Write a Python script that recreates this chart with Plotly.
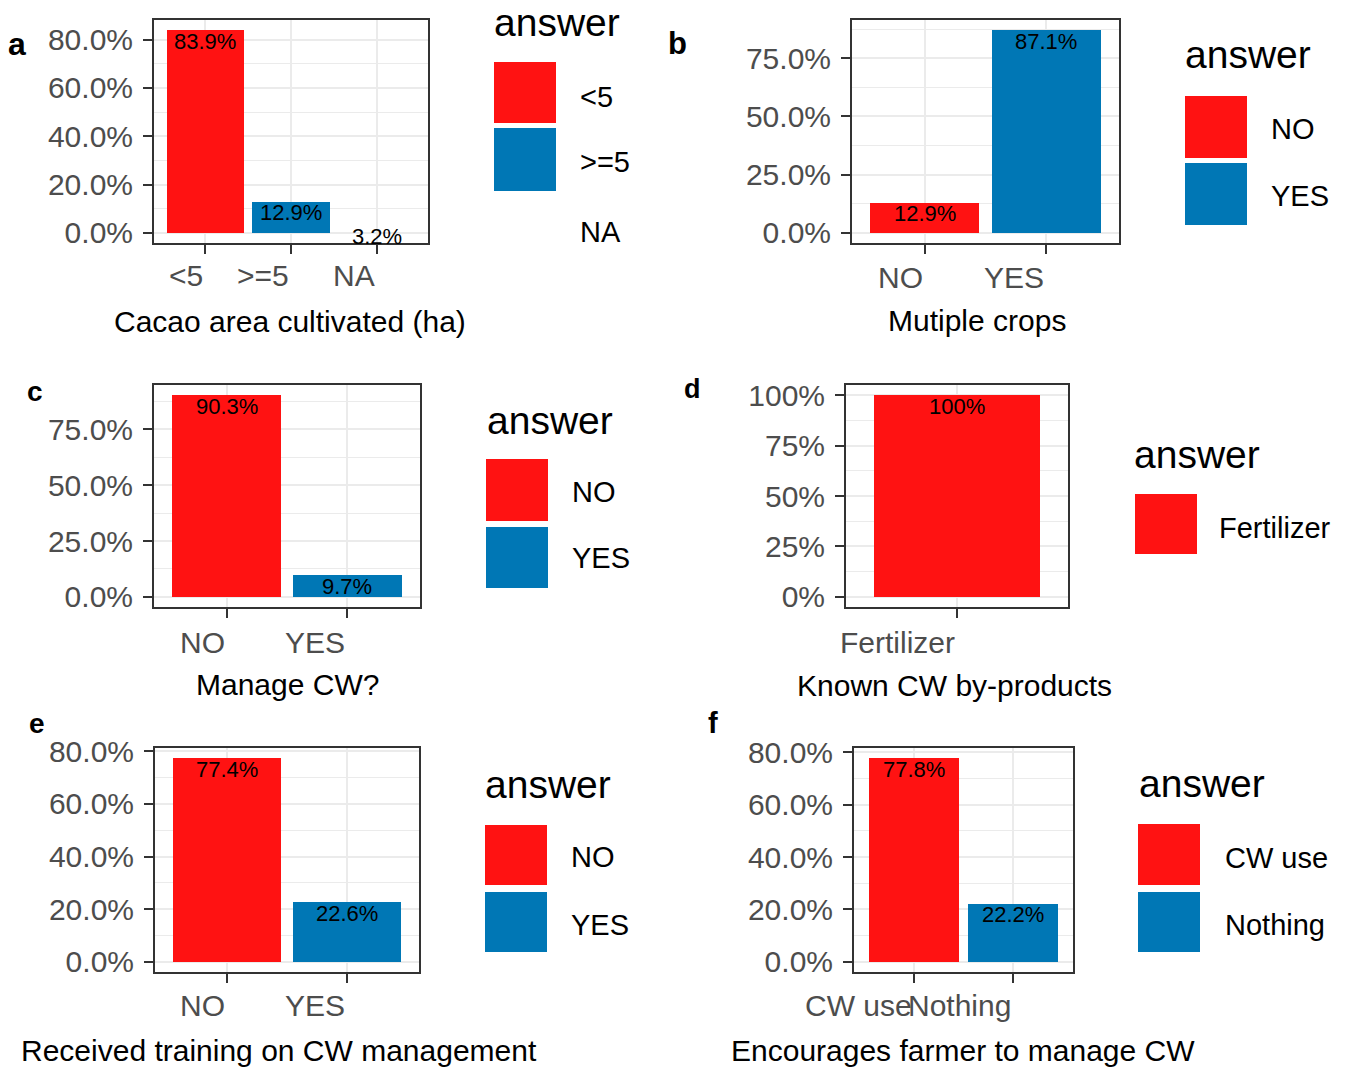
import plotly.graph_objects as go

# ---------------- data ----------------
A_CATEGORIES = ["<5", ">=5", "NA"]
A_SHARE = [0.839, 0.129, 0.032]
A_TITLE = "Cacao area cultivated (ha)"

B_CATEGORIES = ["NO", "YES"]
B_SHARE = [0.129, 0.871]
B_TITLE = "Mutiple crops"

C_CATEGORIES = ["NO", "YES"]
C_SHARE = [0.903, 0.097]
C_TITLE = "Manage CW?"

D_CATEGORIES = ["Fertilizer"]
D_SHARE = [1.0]
D_TITLE = "Known CW by-products"

E_CATEGORIES = ["NO", "YES"]
E_SHARE = [0.774, 0.226]
E_TITLE = "Received training on CW management"

F_CATEGORIES = ["CW use", "Nothing"]
F_SHARE = [0.778, 0.222]
F_TITLE = "Encourages farmer to manage CW"

TICKS_20 = [0, 0.2, 0.4, 0.6, 0.8]
MINOR_20 = [0.1, 0.3, 0.5, 0.7, 0.9]
TICKS_25 = [0, 0.25, 0.5, 0.75]
TICKS_25_FULL = [0, 0.25, 0.5, 0.75, 1.0]
MINOR_25 = [0.125, 0.375, 0.625, 0.875]

LEGEND_TITLE = "answer"

# ---------------- style ----------------
W, H = 1345, 1068
RED = "#FF1212"
BLUE = "#0077B5"
NONE = "rgba(0,0,0,0)"
FONT = "Liberation Sans, Arial, sans-serif"
GRID = "#EBEBEB"
DARK = "#333333"
TICKGREY = "#4D4D4D"


def px(x):
    return x / W


def py(y):
    return 1 - y / H


panels = [
    dict(letter="a", cats=A_CATEGORIES, vals=A_SHARE, title=A_TITLE,
         colors={"<5": RED, ">=5": BLUE, "NA": NONE},
         box=(154, 428, 20, 243), ticks=TICKS_20, minor=MINOR_20, fmt=".1%",
         letter_pos=(17, 44, 32), tick_y=276, title_pos=(290, 322),
         leg=dict(title=(492, 22), keys_x=(494, 556),
                  keys=[(62, 123), (128, 191), None], label_x=578,
                  label_y=[97, 162, 232])),
    dict(letter="b", cats=B_CATEGORIES, vals=B_SHARE, title=B_TITLE,
         colors={"NO": RED, "YES": BLUE},
         box=(852, 1119, 20, 243), ticks=TICKS_25, minor=MINOR_25, fmt=".1%",
         letter_pos=(677, 44, 31), tick_y=277, title_pos=(977, 320),
         leg=dict(title=(1183, 55), keys_x=(1185, 1247),
                  keys=[(96, 158), (163, 225)], label_x=1269,
                  label_y=[129, 196])),
    dict(letter="c", cats=C_CATEGORIES, vals=C_SHARE, title=C_TITLE,
         colors={"NO": RED, "YES": BLUE},
         box=(154, 420, 385, 607), ticks=TICKS_25, minor=MINOR_25, fmt=".1%",
         letter_pos=(35, 391, 28), tick_y=642, title_pos=(287, 684),
         leg=dict(title=(485, 420), keys_x=(486, 548),
                  keys=[(459, 521), (527, 588)], label_x=570,
                  label_y=[492, 558])),
    dict(letter="d", cats=D_CATEGORIES, vals=D_SHARE, title=D_TITLE,
         colors={"Fertilizer": RED},
         box=(846, 1068, 385, 607), ticks=TICKS_25_FULL, minor=MINOR_25, fmt=".0%",
         letter_pos=(693, 389, 27), tick_y=642, title_pos=(955, 685),
         leg=dict(title=(1132, 454), keys_x=(1135, 1197),
                  keys=[(494, 554)], label_x=1217,
                  label_y=[528])),
    dict(letter="e", cats=E_CATEGORIES, vals=E_SHARE, title=E_TITLE,
         colors={"NO": RED, "YES": BLUE},
         box=(155, 419, 748, 972), ticks=TICKS_20, minor=MINOR_20, fmt=".1%",
         letter_pos=(37, 723, 28), tick_y=1005, title_pos=(279, 1050),
         leg=dict(title=(483, 784), keys_x=(485, 547),
                  keys=[(825, 885), (892, 952)], label_x=569,
                  label_y=[857, 925])),
    dict(letter="f", cats=F_CATEGORIES, vals=F_SHARE, title=F_TITLE,
         colors={"CW use": RED, "Nothing": BLUE},
         box=(854, 1073, 748, 972), ticks=TICKS_20, minor=MINOR_20, fmt=".1%",
         letter_pos=(713, 723, 29), tick_y=1005, title_pos=(963, 1050),
         leg=dict(title=(1137, 783), keys_x=(1138, 1200),
                  keys=[(824, 885), (892, 952)], label_x=1223,
                  label_y=[858, 925])),
]

fig = go.Figure()
annotations = []
shapes = []
layout_axes = {}

for i, p in enumerate(panels):
    n = i + 1
    sfx = "" if n == 1 else str(n)
    xa, ya = "x" + sfx, "y" + sfx
    x0, x1, y0, y1 = p["box"]
    vmax = max(p["vals"])

    fig.add_trace(go.Bar(
        x=p["cats"], y=p["vals"], xaxis=xa, yaxis=ya, width=0.9,
        marker=dict(color=[p["colors"][c] for c in p["cats"]], line=dict(width=0)),
        showlegend=False, hoverinfo="skip"))

    # value labels just under the top of each bar
    for c, v in zip(p["cats"], p["vals"]):
        annotations.append(dict(
            x=c, xref=xa, y=v, yref=ya, text=format(v, p["fmt"]),
            showarrow=False, xanchor="center", yanchor="middle", yshift=-11,
            font=dict(size=22, color="black", family=FONT)))

    layout_axes["xaxis" + sfx] = dict(
        domain=[px(x0), px(x1)], anchor=ya, type="category",
        categoryorder="array", categoryarray=p["cats"],
        range=[-0.6, len(p["cats"]) - 0.4], automargin=False,
        showgrid=True, gridcolor=GRID, gridwidth=2,
        showline=True, mirror=True, linecolor=DARK, linewidth=2,
        ticks="outside", ticklen=9, tickwidth=2, tickcolor=DARK,
        showticklabels=False, zeroline=False, fixedrange=True)
    layout_axes["yaxis" + sfx] = dict(
        domain=[py(y1), py(y0)], anchor=xa, automargin=False,
        range=[-0.05 * vmax, 1.05 * vmax],
        tickmode="array", tickvals=p["ticks"], tickformat=p["fmt"],
        tickfont=dict(size=30, color=TICKGREY, family=FONT),
        showgrid=True, gridcolor=GRID, gridwidth=2,
        minor=dict(tickvals=p["minor"], showgrid=True, gridcolor=GRID,
                   gridwidth=1, ticks=""),
        showline=True, mirror=True, linecolor=DARK, linewidth=2,
        ticks="outside", ticklen=9, tickwidth=2, tickcolor=DARK,
        ticklabelstandoff=4, zeroline=False, fixedrange=True)

    # x tick labels, right-aligned at each tick (as in the original)
    for c in p["cats"]:
        annotations.append(dict(
            x=c, xref=xa, y=py(p["tick_y"]), yref="paper",
            text=c, showarrow=False, xanchor="right", yanchor="middle",
            font=dict(size=30, color=TICKGREY, family=FONT)))

    # axis title
    tx, ty = p["title_pos"]
    annotations.append(dict(
        x=px(tx), y=py(ty), xref="paper", yref="paper", text=p["title"],
        showarrow=False, xanchor="center", yanchor="middle",
        font=dict(size=30, color="black", family=FONT)))

    # panel letter
    lx, ly, ls = p["letter_pos"]
    annotations.append(dict(
        x=px(lx), y=py(ly), xref="paper", yref="paper", text="<b>%s</b>" % p["letter"],
        showarrow=False, xanchor="center", yanchor="middle",
        font=dict(size=ls, color="black", family=FONT)))

    # legend
    lg = p["leg"]
    annotations.append(dict(
        x=px(lg["title"][0]), y=py(lg["title"][1]), xref="paper", yref="paper",
        text=LEGEND_TITLE, showarrow=False, xanchor="left", yanchor="middle",
        font=dict(size=39, color="black", family=FONT)))
    for c, key, ly_ in zip(p["cats"], lg["keys"], lg["label_y"]):
        if key is not None and p["colors"][c] != NONE:
            shapes.append(dict(
                type="rect", xref="paper", yref="paper",
                x0=px(lg["keys_x"][0]), x1=px(lg["keys_x"][1]),
                y0=py(key[1]), y1=py(key[0]),
                fillcolor=p["colors"][c], line=dict(width=0), layer="above"))
        annotations.append(dict(
            x=px(lg["label_x"]), y=py(ly_), xref="paper", yref="paper",
            text=c, showarrow=False, xanchor="left", yanchor="middle",
            font=dict(size=29, color="black", family=FONT)))

fig.update_layout(
    width=W, height=H, autosize=False,
    margin=dict(l=0, r=0, t=0, b=0, pad=0, autoexpand=False),
    paper_bgcolor="white", plot_bgcolor="white",
    font=dict(family=FONT),
    showlegend=False, bargap=0,
    annotations=annotations, shapes=shapes,
    **layout_axes)

fig.write_html(
    "out.html",
    config={"displayModeBar": False},
    post_script=(
        "var gd=document.getElementById('{plot_id}');"
        "document.documentElement.style.margin='0';"
        "document.documentElement.style.overflow='hidden';"
        "document.body.style.margin='0';"
        "document.body.style.overflow='hidden';"
        "gd.style.position='absolute';gd.style.left='0px';gd.style.top='0px';"
    ))
